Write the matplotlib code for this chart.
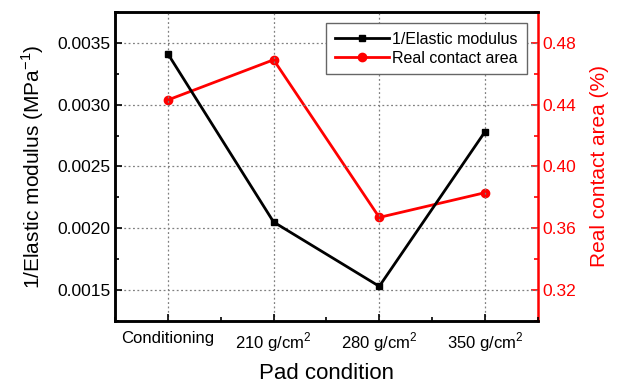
import matplotlib
matplotlib.use("Agg")
import matplotlib.pyplot as plt
from matplotlib.ticker import MultipleLocator

plt.rcParams["font.family"] = ["Liberation Sans", "DejaVu Sans"]
plt.rcParams["mathtext.fontset"] = "custom"
plt.rcParams["mathtext.rm"] = "Liberation Sans"

conditions = ["Conditioning", "210 g/cm$^2$", "280 g/cm$^2$", "350 g/cm$^2$"]
inv_modulus = [0.00341, 0.00205, 0.00153, 0.00278]
contact_area = [0.443, 0.469, 0.367, 0.383]

x = list(range(len(conditions)))

fig = plt.figure(figsize=(6.29, 3.83), dpi=100)
ax = fig.add_axes([0.183, 0.162, 0.672, 0.807])
ax2 = ax.twinx()

l1, = ax.plot(x, inv_modulus, color="black", lw=2, marker="s", ms=5,
              label="1/Elastic modulus", zorder=3)
l2, = ax2.plot(x, contact_area, color="red", lw=2, marker="o", ms=6,
               label="Real contact area", zorder=3)

ax.set_xlim(-0.5, 3.5)
ax.set_ylim(0.00125, 0.00375)
ax2.set_ylim(0.30, 0.50)

ax.set_xticks(x)
ax.set_xticklabels(conditions)
ax.xaxis.set_minor_locator(MultipleLocator(0.5))
ax.yaxis.set_major_locator(MultipleLocator(0.0005))
ax.yaxis.set_minor_locator(MultipleLocator(0.00025))
ax2.set_yticks([0.32, 0.36, 0.40, 0.44, 0.48])
ax2.set_yticklabels(["0.32", "0.36", "0.40", "0.44", "0.48"])
ax2.yaxis.set_minor_locator(MultipleLocator(0.02))

ax.tick_params(axis="both", which="both", direction="in", labelsize=12.5)
ax.tick_params(axis="x", labelsize=12, pad=7)
ax.tick_params(which="major", length=5, width=1.2)
ax.tick_params(which="minor", length=3, width=1.2)
ax2.tick_params(axis="y", which="both", direction="in", colors="red",
                labelsize=12.5, width=1.2)
ax2.tick_params(which="major", length=5)
ax2.tick_params(which="minor", length=3)

ax.grid(True, which="major", linestyle=(0, (1.5, 2)), color="gray", lw=0.9)

for side in ["left", "bottom", "top"]:
    ax.spines[side].set_linewidth(1.8)
    ax2.spines[side].set_linewidth(1.8)
ax2.spines["right"].set_color("red")
ax2.spines["right"].set_linewidth(1.8)
ax.spines["right"].set_visible(False)

ax.set_ylabel("1/Elastic modulus (MPa$^{-1}$)", fontsize=15, labelpad=8)
ax2.set_ylabel("Real contact area (%)", fontsize=15, color="red", labelpad=10)
ax.set_xlabel("Pad condition", fontsize=16, labelpad=6)

leg = ax.legend([l1, l2], ["1/Elastic modulus", "Real contact area"],
                loc="upper right", bbox_to_anchor=(0.985, 0.98), fontsize=11.5,
                fancybox=False, edgecolor="#666666", framealpha=1,
                handlelength=3.4, borderpad=0.55, labelspacing=0.25,
                handletextpad=0.2, borderaxespad=0.3)
leg.get_frame().set_linewidth(1.0)
leg.set_zorder(5)
ax.set_zorder(2)
ax.patch.set_visible(False)

fig.savefig("out.png", dpi=100)
